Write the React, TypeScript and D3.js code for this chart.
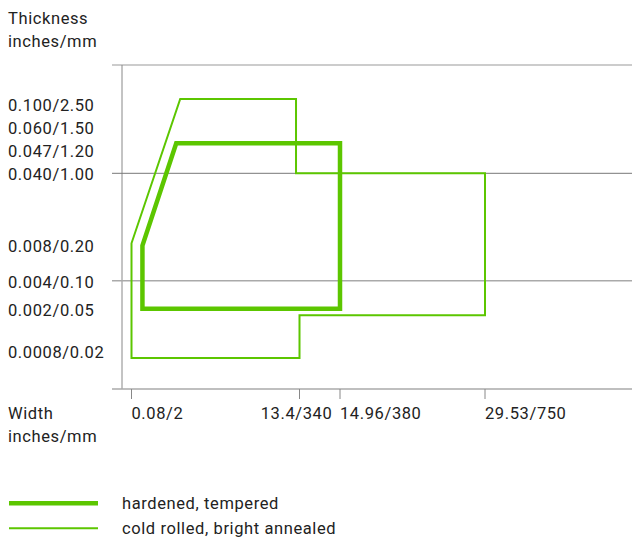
import React from "react";
import * as d3 from "d3";

// tick labels (inches / mm)
const yTickInches = ["0.100", "0.060", "0.047", "0.040", "0.008", "0.004", "0.002", "0.0008"];
const yTickMm = [2.5, 1.5, 1.2, 1.0, 0.2, 0.1, 0.05, 0.02];
const xTickInches = ["0.08", "13.4", "14.96", "29.53"];
const xTickMm = [2, 340, 380, 750];
const gridMm = [1.0, 0.1];

// outlines, [width mm, thickness mm]
const hardenedWidth = [24, 24, 92, 380, 380];
const hardenedThick = [0.05, 0.194, 1.2, 1.2, 0.05];
const coldWidth = [2, 2, 100, 333, 333, 750, 750, 340, 340];
const coldThick = [0.02, 0.2, 2.5, 2.5, 1.0, 1.0, 0.046, 0.046, 0.02];

const legend = ["hardened, tempered", "cold rolled, bright annealed"];

const W = 632;
const H = 538;
const plotTop = 65;
const plotBottom = 389;
const axisX = 122;
const green = "#5cc600";
const textColor = "#222";
const font = "Roboto, 'Liberation Sans', sans-serif";

// the chart is not drawn to scale: piecewise linear scales
const x = d3.scaleLinear().domain([2, 340, 380, 750]).range([131.5, 299.5, 340, 485]);
const y = d3
  .scaleLinear()
  .domain([0.02, 0.05, 0.1, 0.2, 1.0, 1.2, 2.5])
  .range([358, 308.7, 280.7, 243.3, 173.3, 143.3, 99]);
// labels are spread a bit for readability
const yLabel = d3
  .scaleLinear()
  .domain([0.02, 0.05, 0.1, 0.2, 1.0, 1.2, 1.5, 2.5])
  .range([357.7, 316, 288.3, 252, 180.3, 157.3, 134.3, 111]);

const line = d3
  .line<[number, number]>()
  .x((d) => x(d[0]))
  .y((d) => y(d[1]));

const path = (ws: number[], ts: number[]) =>
  line(ws.map((w, i) => [w, ts[i]] as [number, number])) + "Z";

const App = () => {
  return (
    <svg
      width={W}
      height={H}
      style={{ position: "absolute", left: 0, top: 0, background: "#fff" }}
      fontFamily={font}
      fontSize={16.5}
      letterSpacing={0.6}
    >
      {/* frame */}
      <line x1={112} x2={W} y1={plotTop} y2={plotTop} stroke="#bbb" strokeWidth={1.5} />
      <line x1={axisX} x2={axisX} y1={plotTop} y2={plotBottom} stroke="#888" strokeWidth={1} />
      <line x1={112} x2={W} y1={plotBottom} y2={plotBottom} stroke="#aaa" strokeWidth={1.5} />
      {gridMm.map((g, i) => (
        <line
          key={g}
          x1={112}
          x2={W}
          y1={y(g)}
          y2={y(g)}
          stroke={i === 0 ? "#777" : "#aaa"}
          strokeWidth={i === 0 ? 1 : 1.5}
        />
      ))}

      {/* y labels */}
      <text x={8} y={24} fill={textColor}>Thickness</text>
      <text x={8} y={47} fill={textColor}>inches/mm</text>
      {yTickMm.map((v, i) => (
        <text key={v} x={8} y={yLabel(v)} fill={textColor}>
          {yTickInches[i]}/{v.toFixed(2)}
        </text>
      ))}

      {/* x ticks */}
      {xTickMm.map((v, i) => (
        <g key={v}>
          <line x1={x(v)} x2={x(v)} y1={plotBottom} y2={399} stroke="#888" strokeWidth={1} />
          <text
            x={x(v) + (i === 1 ? -3 : 0)}
            y={419}
            fill={textColor}
            textAnchor={i === 1 ? "middle" : "start"}
          >
            {xTickInches[i]}/{v}
          </text>
        </g>
      ))}
      <text x={8} y={419} fill={textColor}>Width</text>
      <text x={8} y={442} fill={textColor}>inches/mm</text>

      {/* outlines */}
      <path d={path(coldWidth, coldThick)} fill="none" stroke={green} strokeWidth={2} />
      <path d={path(hardenedWidth, hardenedThick)} fill="none" stroke={green} strokeWidth={4.5} />

      {/* legend */}
      {legend.map((l, i) => (
        <g key={l}>
          <line
            x1={9}
            x2={98}
            y1={503.3 + i * 25}
            y2={503.3 + i * 25}
            stroke={green}
            strokeWidth={i === 0 ? 4.5 : 2}
          />
          <text x={122} y={509.3 + i * 25} fill={textColor}>
            {l}
          </text>
        </g>
      ))}
    </svg>
  );
};

export default App;
